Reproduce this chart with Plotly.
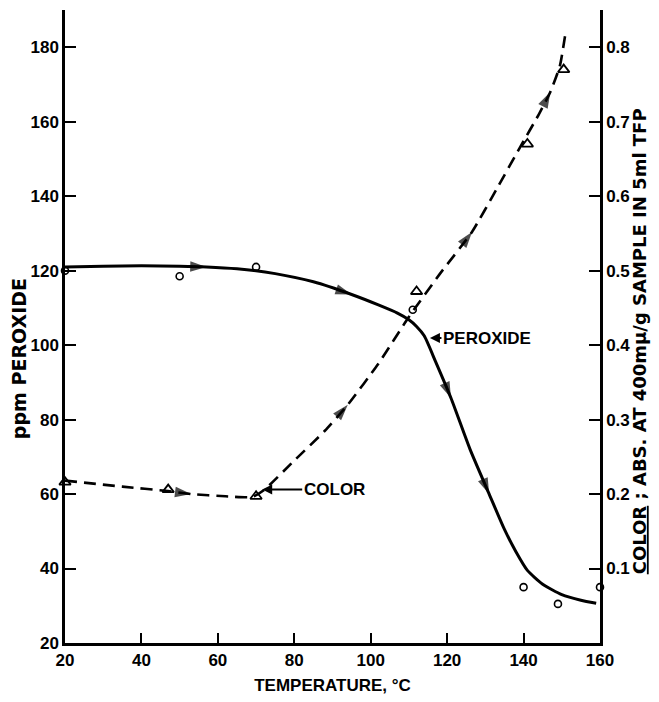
import plotly.graph_objects as go

# ---------------- data ----------------
# measured points
perox_temp = [20, 50, 70, 111, 140, 149, 160]
perox_ppm = [120, 118.5, 121, 109.5, 35, 30.5, 35]

color_temp = [20, 47, 70, 112, 141, 150.5]
color_abs = [0.216, 0.206, 0.197, 0.472, 0.67, 0.77]

# drawn smooth curves
perox_curve_temp = [20, 30, 40, 50, 57, 65, 75, 85, 95, 102, 107, 110, 112, 114,
                    117, 121, 126, 131, 135, 138, 141, 145, 150, 155, 159]
perox_curve_ppm = [121, 121.2, 121.3, 121.2, 121, 120.5, 119.2, 117, 113.6, 110.8,
                   108.6, 106.8, 105, 102.5, 95.5, 85.8, 72, 60, 50.5, 44.5, 39.5,
                   35.8, 33, 31.5, 30.7]
perox_arrow_idx = [4, 8, 15, 17]

color_curve_temp = [20, 35, 47, 53, 62, 69, 72, 80, 88, 94, 102, 110, 118, 126.5,
                    133, 139, 144, 147, 149.5, 151]
color_curve_abs = [0.218, 0.21, 0.204, 0.2, 0.197, 0.196, 0.205, 0.245, 0.285, 0.32,
                   0.375, 0.438, 0.495, 0.552, 0.61, 0.665, 0.71, 0.74, 0.775, 0.82]
color_arrow_idx = [3, 9, 13, 17]

x_ticks = [20, 40, 60, 80, 100, 120, 140, 160]
y_left_ticks = [20, 40, 60, 80, 100, 120, 140, 160, 180]
y_right_ticks = [0.1, 0.2, 0.3, 0.4, 0.5, 0.6, 0.7, 0.8]

# ---------------- figure ----------------
FONT = "Liberation Sans"
TFONT = "DejaVu Sans"
ARROW = 17
fig = go.Figure()

# peroxide curve
fig.add_trace(go.Scatter(x=perox_curve_temp, y=perox_curve_ppm, mode="lines",
                         line=dict(color="black", width=3, shape="spline", smoothing=0.6),
                         hoverinfo="skip", showlegend=False))
fig.add_trace(go.Scatter(
    x=perox_curve_temp, y=perox_curve_ppm, mode="markers",
    marker=dict(symbol="arrow", angleref="previous", color="black",
                size=[ARROW if i in perox_arrow_idx else 0 for i in range(len(perox_curve_temp))],
                line=dict(width=0)),
    hoverinfo="skip", showlegend=False))
fig.add_trace(go.Scatter(x=perox_temp, y=perox_ppm, mode="markers", cliponaxis=False,
                         marker=dict(symbol="circle-open", size=7, color="black",
                                     line=dict(width=1.6, color="black")),
                         showlegend=False))

# color curve (right axis)
fig.add_trace(go.Scatter(x=color_curve_temp, y=color_curve_abs, mode="lines", yaxis="y2",
                         line=dict(color="black", width=2.6, dash="12px,7px",
                                   shape="spline", smoothing=0.5),
                         hoverinfo="skip", showlegend=False))
fig.add_trace(go.Scatter(
    x=color_curve_temp, y=color_curve_abs, mode="markers", yaxis="y2",
    marker=dict(symbol="arrow", angleref="previous", color="black",
                size=[ARROW if i in color_arrow_idx else 0 for i in range(len(color_curve_temp))],
                line=dict(width=0)),
    hoverinfo="skip", showlegend=False))
fig.add_trace(go.Scatter(x=color_temp, y=color_abs, mode="markers", yaxis="y2", cliponaxis=False,
                         marker=dict(symbol="triangle-up-open", size=10, color="black",
                                     line=dict(width=1.8, color="black")),
                         showlegend=False))

axis_common = dict(showgrid=False, zeroline=False, showline=True, linecolor="black",
                   linewidth=2.5, ticks="inside", tickcolor="black", tickwidth=2,
                   tickfont=dict(family=FONT, size=17, color="black", weight="bold"))

fig.update_layout(
    width=659, height=702,
    margin=dict(l=65, r=59, t=10, b=56),
    paper_bgcolor="white", plot_bgcolor="white",
    font=dict(family=FONT, color="black", weight="bold"),
    xaxis=dict(range=[20, 160], tickvals=x_ticks, ticklen=10,
               title=dict(text="TEMPERATURE, °C", standoff=10,
                          font=dict(family=FONT, size=17, color="black", weight="bold")),
               **axis_common),
    yaxis=dict(range=[20, 190], tickvals=y_left_ticks, ticklen=11, **axis_common),
    yaxis2=dict(range=[0, 0.85], tickvals=y_right_ticks, tickformat=".1f", ticklen=11,
                overlaying="y", side="right", anchor="x", **axis_common),
    annotations=[
        dict(text="ppm PEROXIDE", xref="paper", yref="paper", x=-0.086, y=0.45,
             xanchor="center", yanchor="middle",
             textangle=-90, showarrow=False,
             font=dict(family=TFONT, size=19, color="black", weight="bold")),
        dict(text="<u>COLOR</u> ; ABS. AT 400mμ/g SAMPLE IN 5ml TFP", xref="paper", yref="paper",
             x=1.074, y=0.476, xanchor="center", yanchor="middle",
             textangle=-90, showarrow=False,
             font=dict(family=TFONT, size=18, color="black", weight="bold")),
        dict(text="PEROXIDE", x=115.5, y=101.9, xref="x", yref="y", ax=57, ay=0,
             showarrow=True, arrowhead=2, arrowsize=1, arrowwidth=2, arrowcolor="black",
             font=dict(family=FONT, size=17, color="black", weight="bold")),
        dict(text="COLOR", x=71.6, y=0.206, xref="x", yref="y2", ax=72, ay=0,
             showarrow=True, arrowhead=2, arrowsize=1, arrowwidth=2, arrowcolor="black",
             font=dict(family=FONT, size=17, color="black", weight="bold")),
    ],
)

fig.write_html("out.html")
